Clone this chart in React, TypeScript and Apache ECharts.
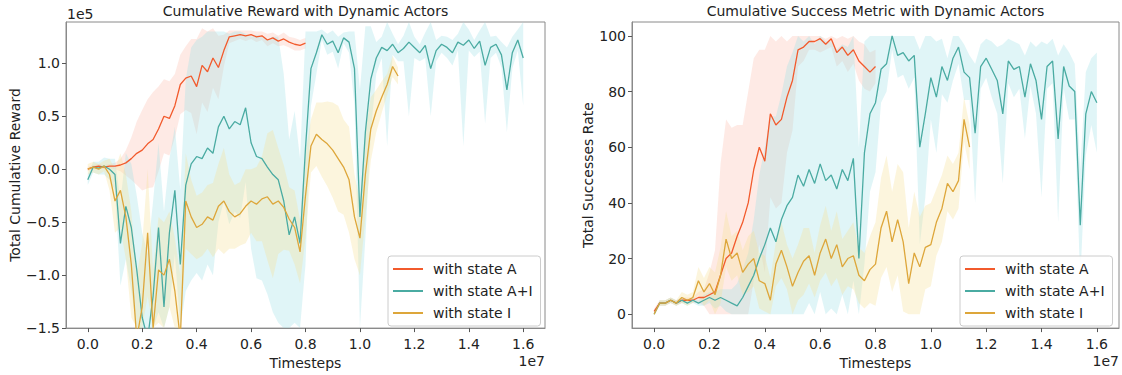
import React, { useEffect, useRef } from "react";
import * as echarts from "echarts";

// ---------- data (x in units of 1e7 timesteps, sampled every 2e5) ----------
const SERIES_NAMES = ["with state A", "with state A+I", "with state I"];
const SAMPLE_STEP = 0.02;

const X_TICKS = [0, 0.2, 0.4, 0.6, 0.8, 1.0, 1.2, 1.4, 1.6];
const REWARD_TICKS = [-1.5, -1.0, -0.5, 0, 0.5, 1.0];
const SUCCESS_TICKS = [0, 20, 40, 60, 80, 100];

// Left chart: cumulative reward (units of 1e5)
const REWARD_A = [0.00, 0.02, 0.03, 0.02, 0.03, 0.03, 0.04, 0.06, 0.10, 0.15, 0.18, 0.24, 0.28, 0.38, 0.50, 0.48, 0.60, 0.80, 0.86, 0.88, 0.78, 0.98, 0.92, 1.05, 0.96, 1.12, 1.25, 1.26, 1.27, 1.26, 1.27, 1.25, 1.26, 1.22, 1.24, 1.21, 1.23, 1.20, 1.18, 1.17, 1.19];
const REWARD_A_STD = [0.02, 0.02, 0.02, 0.02, 0.02, 0.03, 0.06, 0.12, 0.20, 0.30, 0.38, 0.42, 0.45, 0.40, 0.35, 0.35, 0.30, 0.28, 0.30, 0.35, 0.45, 0.35, 0.38, 0.28, 0.30, 0.15, 0.06, 0.05, 0.04, 0.05, 0.04, 0.05, 0.04, 0.06, 0.05, 0.05, 0.06, 0.05, 0.06, 0.05, 0.05];

const REWARD_AI = [-0.10, 0.02, 0.01, 0.03, 0.00, -0.05, -0.70, -0.35, -0.55, -0.95, -1.40, -1.60, -1.20, -0.55, -1.30, -0.60, -0.20, -0.90, -0.15, 0.05, 0.12, 0.10, 0.20, 0.15, 0.40, 0.50, 0.38, 0.45, 0.42, 0.58, 0.25, 0.12, 0.10, 0.02, -0.05, -0.10, -0.30, -0.62, -0.45, -0.70, 0.20, 0.95, 1.10, 1.27, 1.18, 1.21, 1.10, 1.24, 1.20, 0.95, -0.45, 0.35, 0.85, 1.05, 1.15, 1.12, 1.18, 1.10, 1.14, 1.20, 1.15, 1.10, 1.17, 0.95, 1.12, 1.18, 1.15, 1.10, 1.20, 1.17, 1.22, 1.14, 1.21, 0.98, 1.15, 1.18, 1.08, 0.75, 1.10, 1.22, 1.05];
const REWARD_AI_STD = [0.05, 0.05, 0.06, 0.08, 0.10, 0.15, 0.40, 0.50, 0.60, 0.70, 0.80, 0.80, 0.90, 0.80, 0.90, 0.70, 0.60, 0.70, 1.00, 1.10, 1.10, 1.15, 1.10, 1.15, 0.90, 0.80, 0.90, 0.85, 0.88, 0.70, 1.00, 1.15, 1.15, 1.20, 1.30, 1.35, 1.20, 0.90, 1.00, 0.80, 1.10, 0.35, 0.20, 0.05, 0.10, 0.10, 0.15, 0.05, 0.10, 0.35, 1.20, 1.00, 0.50, 0.15, 0.10, 0.90, 0.10, 0.08, 0.12, 0.70, 0.10, 0.08, 0.12, 0.45, 0.10, 0.08, 0.10, 0.12, 0.08, 0.95, 0.10, 0.08, 0.10, 0.55, 0.10, 0.08, 0.12, 0.40, 0.15, 0.10, 0.45];

const REWARD_I = [0.00, 0.02, 0.00, 0.03, -0.05, -0.30, -0.20, -0.45, -0.90, -1.60, -1.30, -0.60, -1.50, -0.95, -1.00, -0.85, -1.15, -1.60, -0.30, -0.45, -0.55, -0.52, -0.45, -0.48, -0.35, -0.30, -0.40, -0.45, -0.42, -0.35, -0.30, -0.33, -0.28, -0.26, -0.33, -0.30, -0.36, -0.47, -0.55, -0.78, -0.25, 0.22, 0.33, 0.28, 0.24, 0.18, 0.10, 0.02, -0.10, -0.45, -0.65, -0.05, 0.38, 0.55, 0.68, 0.80, 0.97, 0.88];
const REWARD_I_STD = [0.05, 0.05, 0.05, 0.05, 0.15, 0.30, 0.35, 0.40, 0.50, 0.60, 0.60, 0.60, 0.55, 0.50, 0.50, 0.45, 0.50, 0.60, 0.45, 0.35, 0.30, 0.30, 0.30, 0.35, 0.40, 0.50, 0.35, 0.30, 0.30, 0.35, 0.30, 0.35, 0.40, 0.60, 0.70, 0.50, 0.40, 0.30, 0.35, 0.30, 0.40, 0.25, 0.30, 0.35, 0.40, 0.45, 0.50, 0.45, 0.50, 0.40, 0.35, 0.40, 0.30, 0.20, 0.15, 0.10, 0.10, 0.08];

// Right chart: success rate (%)
const SUCCESS_A = [1, 4, 4, 5, 4, 5, 5, 5, 6, 6, 7, 8, 14, 20, 22, 28, 33, 40, 52, 60, 55, 72, 68, 70, 78, 84, 95, 96, 98, 98, 99, 97, 99, 94, 96, 93, 95, 91, 89, 87, 89];
const SUCCESS_A_STD = [1, 1, 1, 1, 1, 1, 1, 1, 2, 3, 8, 15, 40, 50, 45, 40, 35, 40, 40, 35, 40, 30, 30, 30, 20, 18, 6, 5, 3, 3, 5, 2, 3, 5, 5, 6, 5, 7, 8, 7, 6];

const SUCCESS_AI = [0, 4, 4, 5, 4, 5, 4, 5, 4, 5, 6, 5, 6, 5, 4, 3, 6, 10, 14, 20, 25, 31, 26, 34, 39, 42, 50, 46, 52, 47, 54, 48, 50, 45, 52, 48, 56, 20, 58, 72, 76, 88, 90, 100, 93, 94, 91, 93, 60, 72, 85, 78, 89, 84, 92, 96, 87, 85, 65, 89, 92, 88, 84, 72, 91, 88, 89, 78, 90, 84, 70, 89, 91, 63, 89, 82, 80, 32, 72, 80, 76];
const SUCCESS_AI_STD = [0, 1, 1, 1, 1, 1, 1, 1, 1, 2, 2, 3, 3, 4, 5, 8, 10, 12, 20, 30, 35, 40, 45, 45, 50, 52, 50, 52, 48, 50, 46, 50, 48, 50, 45, 48, 44, 40, 40, 28, 25, 12, 10, 5, 8, 8, 10, 8, 35, 30, 15, 20, 10, 8, 8, 6, 10, 8, 25, 8, 7, 10, 12, 25, 8, 10, 8, 15, 8, 12, 28, 8, 8, 30, 8, 12, 10, 20, 15, 12, 18];

const SUCCESS_I = [0, 4, 4, 5, 4, 6, 5, 6, 12, 8, 11, 7, 14, 27, 20, 22, 15, 18, 20, 12, 11, 5, 18, 23, 17, 10, 15, 19, 21, 14, 22, 27, 20, 25, 17, 20, 21, 14, 12, 16, 18, 31, 37, 26, 34, 26, 11, 22, 17, 24, 25, 33, 38, 47, 44, 48, 70, 60];
const SUCCESS_I_STD = [0, 1, 1, 1, 1, 2, 2, 2, 5, 5, 6, 8, 10, 10, 8, 8, 8, 10, 10, 10, 10, 8, 8, 10, 8, 10, 10, 12, 10, 8, 10, 12, 10, 12, 10, 10, 12, 10, 10, 12, 15, 18, 20, 18, 20, 25, 20, 22, 18, 15, 15, 12, 12, 10, 10, 10, 8, 8];

// ---------- styles ----------
const LINE_COLORS = ["#f25a2c", "#4aaba2", "#dda63a"];
const BAND_COLORS = ["rgba(252,190,175,0.32)", "rgba(160,225,230,0.32)", "rgba(245,225,150,0.32)"];
const FONT = "DejaVu Sans";
const TEXT_COLOR = "#222";
const FRAME_COLOR = "#8a8a8a";

function timesOf(arr: number[]) {
  return arr.map((_, i) => Math.round(i * SAMPLE_STEP * 100) / 100);
}

function bandSeries(gi: number, mean: number[], spread: number[], color: string, lo: number, hi: number) {
  const xs = timesOf(mean);
  return {
    type: "custom",
    xAxisIndex: gi,
    yAxisIndex: gi,
    silent: true,
    z: 1,
    data: [[0, 0]],
    renderItem: (_params: any, api: any) => {
      const clamp = (v: number) => Math.max(lo, Math.min(hi, v));
      const upper = xs.map((x, i) => api.coord([x, clamp(mean[i] + spread[i])]));
      const lower = xs.map((x, i) => api.coord([x, clamp(mean[i] - spread[i])])).reverse();
      return { type: "polygon", shape: { points: upper.concat(lower) }, style: { fill: color } };
    },
  };
}

function lineSeries(gi: number, name: string, mean: number[], color: string) {
  const xs = timesOf(mean);
  return {
    type: "line",
    name,
    xAxisIndex: gi,
    yAxisIndex: gi,
    data: xs.map((x, i) => [x, mean[i]]),
    symbol: "none",
    showSymbol: false,
    clip: true,
    z: 3,
    lineStyle: { width: 1.3, color },
    itemStyle: { color },
  };
}

function xAxis(gi: number) {
  return {
    type: "value",
    gridIndex: gi,
    min: -0.08,
    max: 1.68,
    name: "Timesteps",
    nameLocation: "middle",
    nameGap: 22,
    nameTextStyle: { fontSize: 14, color: TEXT_COLOR, fontFamily: FONT },
    axisLine: { show: true, onZero: false, lineStyle: { color: FRAME_COLOR } },
    axisTick: { show: true, customValues: X_TICKS, length: 4, lineStyle: { color: "#555" } },
    axisLabel: { customValues: X_TICKS, formatter: (v: number) => v.toFixed(1), fontSize: 14, color: TEXT_COLOR, margin: 9, fontFamily: FONT },
    splitLine: { show: false },
  };
}

function fmtSigned(v: number) {
  return (v < 0 ? "\u2212" : "") + Math.abs(v).toFixed(1);
}

function legend(left: number) {
  return {
    data: SERIES_NAMES,
    orient: "vertical",
    left,
    top: 256,
    icon: "rect",
    itemWidth: 30,
    itemHeight: 2,
    itemGap: 6,
    padding: [5, 8, 5, 5],
    backgroundColor: "rgba(255,255,255,0.85)",
    borderColor: "#cccccc",
    borderWidth: 1,
    borderRadius: 3,
    textStyle: { fontSize: 14, color: TEXT_COLOR, fontFamily: FONT, lineHeight: 16, padding: [0, 0, 0, 5] },
  };
}

export default function App() {
  const ref = useRef<HTMLDivElement>(null);
  useEffect(() => {
    if (!ref.current) return;
    const chart = echarts.init(ref.current, undefined, { renderer: "svg" });
    const option: any = {
      animation: false,
      textStyle: { fontFamily: FONT },
      grid: [
        { left: 66, top: 22, width: 479, height: 311, show: true, borderColor: FRAME_COLOR, borderWidth: 1 },
        { left: 632, top: 22, width: 487, height: 311, show: true, borderColor: FRAME_COLOR, borderWidth: 1 },
      ],
      xAxis: [xAxis(0), xAxis(1)],
      yAxis: [
        {
          type: "value",
          gridIndex: 0,
          min: -1.5,
          max: 1.39,
          name: "Total Cumulative Reward",
          nameLocation: "middle",
          nameGap: 36,
          nameTextStyle: { fontSize: 14, color: TEXT_COLOR, fontFamily: FONT },
          axisLine: { show: true, onZero: false, lineStyle: { color: FRAME_COLOR } },
          axisTick: { show: true, customValues: REWARD_TICKS, length: 4, lineStyle: { color: "#555" } },
          axisLabel: { customValues: REWARD_TICKS, formatter: fmtSigned, fontSize: 14, color: TEXT_COLOR, margin: 6, fontFamily: FONT },
          splitLine: { show: false },
        },
        {
          type: "value",
          gridIndex: 1,
          min: -5,
          max: 105,
          name: "Total Successes Rate",
          nameLocation: "middle",
          nameGap: 35,
          nameTextStyle: { fontSize: 14, color: TEXT_COLOR, fontFamily: FONT },
          axisLine: { show: true, onZero: false, lineStyle: { color: FRAME_COLOR } },
          axisTick: { show: true, customValues: SUCCESS_TICKS, length: 4, lineStyle: { color: "#555" } },
          axisLabel: { customValues: SUCCESS_TICKS, formatter: (v: number) => String(v), fontSize: 14, color: TEXT_COLOR, margin: 6, fontFamily: FONT },
          splitLine: { show: false },
        },
      ],
      legend: [legend(388), legend(960)],
      graphic: [
        { type: "text", x: 305.5, y: 4, style: { text: "Cumulative Reward with Dynamic Actors", align: "center", verticalAlign: "top", font: `14px "${FONT}"`, fill: TEXT_COLOR } },
        { type: "text", x: 875.5, y: 4, style: { text: "Cumulative Success Metric with Dynamic Actors", align: "center", verticalAlign: "top", font: `14px "${FONT}"`, fill: TEXT_COLOR } },
        { type: "text", x: 67, y: 7, style: { text: "1e5", align: "left", verticalAlign: "top", font: `14px "${FONT}"`, fill: TEXT_COLOR } },
        { type: "text", x: 545, y: 354, style: { text: "1e7", align: "right", verticalAlign: "top", font: `14px "${FONT}"`, fill: TEXT_COLOR } },
        { type: "text", x: 1119, y: 354, style: { text: "1e7", align: "right", verticalAlign: "top", font: `14px "${FONT}"`, fill: TEXT_COLOR } },
      ],
      series: [
        bandSeries(0, REWARD_A, REWARD_A_STD, BAND_COLORS[0], -1.5, 1.39),
        bandSeries(0, REWARD_AI, REWARD_AI_STD, BAND_COLORS[1], -1.5, 1.39),
        bandSeries(0, REWARD_I, REWARD_I_STD, BAND_COLORS[2], -1.5, 1.39),
        lineSeries(0, SERIES_NAMES[0], REWARD_A, LINE_COLORS[0]),
        lineSeries(0, SERIES_NAMES[1], REWARD_AI, LINE_COLORS[1]),
        lineSeries(0, SERIES_NAMES[2], REWARD_I, LINE_COLORS[2]),
        bandSeries(1, SUCCESS_A, SUCCESS_A_STD, BAND_COLORS[0], 0, 100),
        bandSeries(1, SUCCESS_AI, SUCCESS_AI_STD, BAND_COLORS[1], 0, 100),
        bandSeries(1, SUCCESS_I, SUCCESS_I_STD, BAND_COLORS[2], 0, 100),
        lineSeries(1, SERIES_NAMES[0], SUCCESS_A, LINE_COLORS[0]),
        lineSeries(1, SERIES_NAMES[1], SUCCESS_AI, LINE_COLORS[1]),
        lineSeries(1, SERIES_NAMES[2], SUCCESS_I, LINE_COLORS[2]),
      ],
    };
    chart.setOption(option);
    return () => chart.dispose();
  }, []);
  return <div ref={ref} style={{ position: "absolute", left: 0, top: 0, width: 1122, height: 375 }} />;
}
